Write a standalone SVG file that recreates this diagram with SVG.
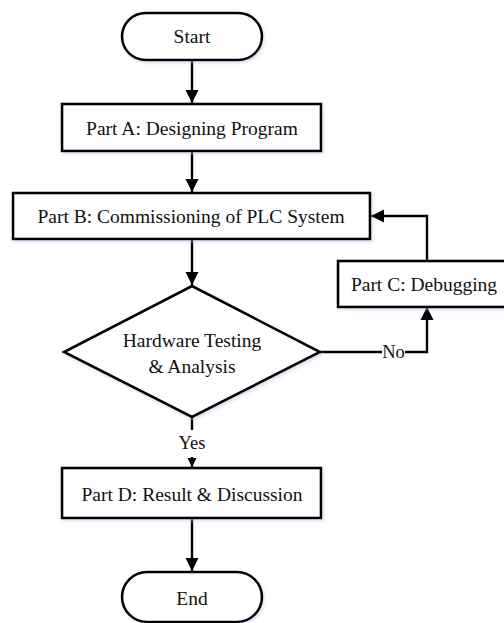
<svg xmlns="http://www.w3.org/2000/svg" width="504" height="623" viewBox="0 0 504 623" font-family="'Liberation Serif', 'Times New Roman', Times, serif">
<style>
.shape{fill:#fff;stroke:#000;stroke-width:2.6;filter:url(#sh)}
.edge{fill:none;stroke:#000;stroke-width:2.4}
text{font-family:'Liberation Serif', 'Times New Roman', Times, serif;font-size:19.5px;fill:#111;text-anchor:middle}
.lbl{font-size:18.5px}
</style>
<defs>
<filter id="sh" x="-10%" y="-10%" width="120%" height="130%">
<feDropShadow dx="1.5" dy="2" stdDeviation="1.5" flood-color="#a9c0dc" flood-opacity="0.45"/>
</filter>
<marker id="arr" markerUnits="userSpaceOnUse" markerWidth="14" markerHeight="14" viewBox="0 0 14 14" refX="13" refY="7" orient="auto">
<path d="M0,0.5 L13,7 L0,13.5 z" fill="#000"/>
</marker>
<marker id="arrs" markerUnits="userSpaceOnUse" markerWidth="10" markerHeight="10" viewBox="0 0 10 10" refX="9" refY="5" orient="auto">
<path d="M0,0.5 L9,5 L0,9.5 z" fill="#000"/>
</marker>
</defs>
<g id="connectors">
<path class="edge" d="M192,60 V103" marker-end="url(#arr)"/>
<path class="edge" d="M192,151 V192" marker-end="url(#arr)"/>
<path class="edge" d="M192,239 V285" marker-end="url(#arr)"/>
<path class="edge" d="M320,352 H382 M405,352 H427 V307" marker-end="url(#arr)"/>
<path class="edge" d="M427,261 V216 H371" marker-end="url(#arr)"/>
<path class="edge" d="M192,417 V430"/>
<path class="edge" d="M192,457 V467" marker-end="url(#arrs)"/>
<path class="edge" d="M192,518 V571" marker-end="url(#arr)"/>
<text class="lbl" x="393.5" y="358">No</text>
<text class="lbl" x="192" y="449">Yes</text>
</g>
<g id="start">
<rect class="shape" x="122" y="13" width="140" height="47" rx="23.5"/>
<text x="192" y="43">Start</text>
</g>
<g id="partA">
<rect class="shape" x="62" y="104" width="259" height="47"/>
<text x="192" y="135">Part A: Designing Program</text>
</g>
<g id="partB">
<rect class="shape" x="13" y="193" width="357" height="46"/>
<text x="191" y="223">Part B: Commissioning of PLC System</text>
</g>
<g id="decision">
<polygon class="shape" points="192,286 320,352 192,417 64,352"/>
<text x="192" y="347">Hardware Testing</text>
<text x="192" y="373">&amp; Analysis</text>
</g>
<g id="partC">
<rect class="shape" x="338" y="261" width="172" height="46"/>
<text x="424" y="291">Part C: Debugging</text>
</g>
<g id="partD">
<rect class="shape" x="62" y="468" width="259" height="50"/>
<text x="192" y="501">Part D: Result &amp; Discussion</text>
</g>
<g id="end">
<rect class="shape" x="122" y="572" width="140" height="50" rx="25"/>
<text x="192" y="605">End</text>
</g>
</svg>
